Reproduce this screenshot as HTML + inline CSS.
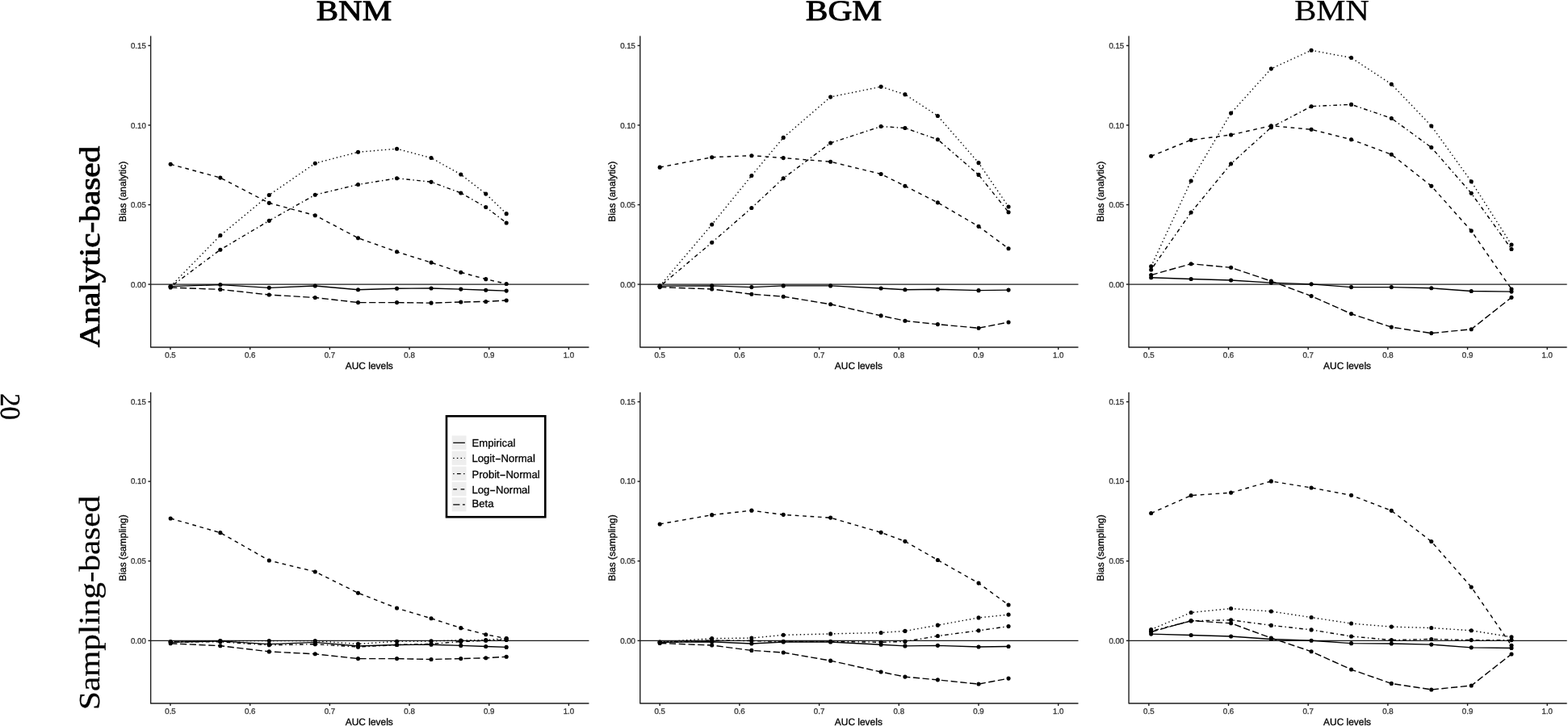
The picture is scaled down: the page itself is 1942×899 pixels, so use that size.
<!DOCTYPE html>
<html lang="en"><head><meta charset="utf-8"><title>Bias of AUC estimators</title>
<style>
html,body{margin:0;padding:0;background:#fff;}
body{width:1942px;height:899px;overflow:hidden;}
svg{display:block;}
.sans{font-family:"Liberation Sans","DejaVu Sans",sans-serif;}
.serif{font-family:"Liberation Serif","DejaVu Serif",serif;}
text{text-rendering:geometricPrecision;}
.tick{font-size:9.7px;fill:#363636;stroke:#363636;stroke-width:0.3px;}
.axt{font-size:11.95px;fill:#000;stroke:#000;stroke-width:0.3px;}
.leg{font-size:13.1px;fill:#000;stroke:#000;stroke-width:0.3px;}
.ttl{font-size:35.6px;fill:#000;stroke:#000;stroke-width:0.9px;stroke-linejoin:round;}
.pg{font-size:35px;fill:#000;stroke:#000;stroke-width:0.35px;}
.ttl2{font-size:36.5px;fill:#000;stroke:#000;stroke-width:0.25px;}
</style></head><body>
<svg width="1942" height="899" viewBox="0 0 1942 899">
<rect x="0" y="0" width="1942" height="899" fill="#fff"/>
<text class="serif pg" transform="translate(1.0 487.0) rotate(90)" textLength="33.2" lengthAdjust="spacingAndGlyphs">20</text>
<text class="serif ttl" x="438.5" y="25.2" text-anchor="middle" textLength="93.5" lengthAdjust="spacingAndGlyphs">BNM</text>
<text class="serif ttl" x="1045" y="25.2" text-anchor="middle" textLength="94.5" lengthAdjust="spacingAndGlyphs">BGM</text>
<text class="serif ttl2" x="1649.5" y="25.2" text-anchor="middle" textLength="92.5" lengthAdjust="spacingAndGlyphs">BMN</text>
<text class="serif ttl" transform="translate(123.1 430.3) rotate(-90)" textLength="249.5" lengthAdjust="spacingAndGlyphs">Analytic-based</text>
<g id="panel-A1">
<line x1="186.65" y1="352.1" x2="729.45" y2="352.1" stroke="#1a1a1a" stroke-width="1.3"/>
<path d="M211.24 354.63 L272.85 352.6 L333.31 356.36 L390.29 354.05 L443.51 358.68 L491.53 357.23 L534.05 356.94 L570.79 358.1 L601.74 359.26 L627.19 360.12" fill="none" stroke="#000" stroke-width="1.4"/>
<path d="M211.24 354.63 L272.85 291.57 L333.31 241.53 L390.29 202.19 L443.51 188.31 L491.53 184.26 L534.05 195.54 L570.79 216.07 L601.74 240.08 L627.19 264.67" fill="none" stroke="#000" stroke-width="1.4" stroke-dasharray="1.4 3.3"/>
<path d="M211.24 355.21 L272.85 309.21 L333.31 273.35 L390.29 241.24 L443.51 228.51 L491.53 220.7 L534.05 225.33 L570.79 238.93 L601.74 256.57 L627.19 275.95" fill="none" stroke="#000" stroke-width="1.4" stroke-dasharray="1.4 3.41 4.7 3.41"/>
<path d="M211.24 203.35 L272.85 220.12 L333.31 251.36 L390.29 266.69 L443.51 294.75 L491.53 311.82 L534.05 325.12 L570.79 337.27 L601.74 345.66 L627.19 351.45" fill="none" stroke="#000" stroke-width="1.4" stroke-dasharray="4.7 4.7"/>
<path d="M211.24 356.07 L272.85 358.39 L333.31 365.04 L390.29 368.51 L443.51 374.59 L491.53 374.59 L534.05 375.17 L570.79 374.01 L601.74 373.43 L627.19 371.98" fill="none" stroke="#000" stroke-width="1.4" stroke-dasharray="8.22 3.53"/>
<circle cx="211.24" cy="354.63" r="2.55" fill="#000"/>
<circle cx="272.85" cy="352.6" r="2.55" fill="#000"/>
<circle cx="333.31" cy="356.36" r="2.55" fill="#000"/>
<circle cx="390.29" cy="354.05" r="2.55" fill="#000"/>
<circle cx="443.51" cy="358.68" r="2.55" fill="#000"/>
<circle cx="491.53" cy="357.23" r="2.55" fill="#000"/>
<circle cx="534.05" cy="356.94" r="2.55" fill="#000"/>
<circle cx="570.79" cy="358.1" r="2.55" fill="#000"/>
<circle cx="601.74" cy="359.26" r="2.55" fill="#000"/>
<circle cx="627.19" cy="360.12" r="2.55" fill="#000"/>
<circle cx="211.24" cy="354.63" r="2.55" fill="#000"/>
<circle cx="272.85" cy="291.57" r="2.55" fill="#000"/>
<circle cx="333.31" cy="241.53" r="2.55" fill="#000"/>
<circle cx="390.29" cy="202.19" r="2.55" fill="#000"/>
<circle cx="443.51" cy="188.31" r="2.55" fill="#000"/>
<circle cx="491.53" cy="184.26" r="2.55" fill="#000"/>
<circle cx="534.05" cy="195.54" r="2.55" fill="#000"/>
<circle cx="570.79" cy="216.07" r="2.55" fill="#000"/>
<circle cx="601.74" cy="240.08" r="2.55" fill="#000"/>
<circle cx="627.19" cy="264.67" r="2.55" fill="#000"/>
<circle cx="211.24" cy="355.21" r="2.55" fill="#000"/>
<circle cx="272.85" cy="309.21" r="2.55" fill="#000"/>
<circle cx="333.31" cy="273.35" r="2.55" fill="#000"/>
<circle cx="390.29" cy="241.24" r="2.55" fill="#000"/>
<circle cx="443.51" cy="228.51" r="2.55" fill="#000"/>
<circle cx="491.53" cy="220.7" r="2.55" fill="#000"/>
<circle cx="534.05" cy="225.33" r="2.55" fill="#000"/>
<circle cx="570.79" cy="238.93" r="2.55" fill="#000"/>
<circle cx="601.74" cy="256.57" r="2.55" fill="#000"/>
<circle cx="627.19" cy="275.95" r="2.55" fill="#000"/>
<circle cx="211.24" cy="203.35" r="2.55" fill="#000"/>
<circle cx="272.85" cy="220.12" r="2.55" fill="#000"/>
<circle cx="333.31" cy="251.36" r="2.55" fill="#000"/>
<circle cx="390.29" cy="266.69" r="2.55" fill="#000"/>
<circle cx="443.51" cy="294.75" r="2.55" fill="#000"/>
<circle cx="491.53" cy="311.82" r="2.55" fill="#000"/>
<circle cx="534.05" cy="325.12" r="2.55" fill="#000"/>
<circle cx="570.79" cy="337.27" r="2.55" fill="#000"/>
<circle cx="601.74" cy="345.66" r="2.55" fill="#000"/>
<circle cx="627.19" cy="351.45" r="2.55" fill="#000"/>
<circle cx="211.24" cy="356.07" r="2.55" fill="#000"/>
<circle cx="272.85" cy="358.39" r="2.55" fill="#000"/>
<circle cx="333.31" cy="365.04" r="2.55" fill="#000"/>
<circle cx="390.29" cy="368.51" r="2.55" fill="#000"/>
<circle cx="443.51" cy="374.59" r="2.55" fill="#000"/>
<circle cx="491.53" cy="374.59" r="2.55" fill="#000"/>
<circle cx="534.05" cy="375.17" r="2.55" fill="#000"/>
<circle cx="570.79" cy="374.01" r="2.55" fill="#000"/>
<circle cx="601.74" cy="373.43" r="2.55" fill="#000"/>
<circle cx="627.19" cy="371.98" r="2.55" fill="#000"/>
<path d="M186.65 44.6 V430 H729.45" fill="none" stroke="#1f1f1f" stroke-width="1.4" stroke-linejoin="round"/>
<line x1="211" y1="430" x2="211" y2="433" stroke="#1a1a1a" stroke-width="1.4"/>
<text class="sans tick" x="211" y="443" text-anchor="middle">0.5</text>
<line x1="309.68" y1="430" x2="309.68" y2="433" stroke="#1a1a1a" stroke-width="1.4"/>
<text class="sans tick" x="309.68" y="443" text-anchor="middle">0.6</text>
<line x1="408.36" y1="430" x2="408.36" y2="433" stroke="#1a1a1a" stroke-width="1.4"/>
<text class="sans tick" x="408.36" y="443" text-anchor="middle">0.7</text>
<line x1="507.04" y1="430" x2="507.04" y2="433" stroke="#1a1a1a" stroke-width="1.4"/>
<text class="sans tick" x="507.04" y="443" text-anchor="middle">0.8</text>
<line x1="605.72" y1="430" x2="605.72" y2="433" stroke="#1a1a1a" stroke-width="1.4"/>
<text class="sans tick" x="605.72" y="443" text-anchor="middle">0.9</text>
<line x1="704.4" y1="430" x2="704.4" y2="433" stroke="#1a1a1a" stroke-width="1.4"/>
<text class="sans tick" x="704.4" y="443" text-anchor="middle">1.0</text>
<line x1="183.45" y1="352.1" x2="186.65" y2="352.1" stroke="#1a1a1a" stroke-width="1.4"/>
<text class="sans tick" x="180.85" y="355.7" text-anchor="end">0.00</text>
<line x1="183.45" y1="253.55" x2="186.65" y2="253.55" stroke="#1a1a1a" stroke-width="1.4"/>
<text class="sans tick" x="180.85" y="257.15" text-anchor="end">0.05</text>
<line x1="183.45" y1="155" x2="186.65" y2="155" stroke="#1a1a1a" stroke-width="1.4"/>
<text class="sans tick" x="180.85" y="158.6" text-anchor="end">0.10</text>
<line x1="183.45" y1="56.45" x2="186.65" y2="56.45" stroke="#1a1a1a" stroke-width="1.4"/>
<text class="sans tick" x="180.85" y="60.05" text-anchor="end">0.15</text>
<text class="sans axt" x="457.25" y="456.6" text-anchor="middle">AUC levels</text>
<text class="sans axt" transform="translate(155.95 237.3) rotate(-90)" text-anchor="middle">Bias (analytic)</text>
</g>
<g id="panel-A2">
<line x1="792.8" y1="352.1" x2="1335.5" y2="352.1" stroke="#1a1a1a" stroke-width="1.3"/>
<path d="M817.19 354.17 L881.69 353.88 L930.87 355.62 L970.21 353.88 L1028.64 353.88 L1091.12 357.07 L1120.91 358.8 L1161.4 358.22 L1212.02 359.67 L1249.05 359.09" fill="none" stroke="#000" stroke-width="1.4"/>
<path d="M817.19 354.17 L881.69 278.02 L930.87 217.56 L970.21 170.41 L1028.64 120.08 L1091.12 107.36 L1120.91 116.9 L1161.4 143.51 L1212.02 201.65 L1249.05 256.03" fill="none" stroke="#000" stroke-width="1.4" stroke-dasharray="1.4 3.3"/>
<path d="M817.19 354.75 L881.69 300.29 L930.87 257.48 L970.21 220.74 L1028.64 177.07 L1091.12 156.53 L1120.91 158.55 L1161.4 172.73 L1212.02 216.4 L1249.05 262.69" fill="none" stroke="#000" stroke-width="1.4" stroke-dasharray="1.4 3.41 4.7 3.41"/>
<path d="M817.19 207.15 L881.69 194.71 L930.87 192.69 L970.21 195.58 L1028.64 200.21 L1091.12 215.54 L1120.91 230.29 L1161.4 250.83 L1212.02 280.33 L1249.05 307.81" fill="none" stroke="#000" stroke-width="1.4" stroke-dasharray="4.7 4.7"/>
<path d="M817.19 355.62 L881.69 357.93 L930.87 364.3 L970.21 367.19 L1028.64 376.74 L1091.12 390.91 L1120.91 397.27 L1161.4 401.61 L1212.02 406.24 L1249.05 399.01" fill="none" stroke="#000" stroke-width="1.4" stroke-dasharray="8.22 3.53"/>
<circle cx="817.19" cy="354.17" r="2.55" fill="#000"/>
<circle cx="881.69" cy="353.88" r="2.55" fill="#000"/>
<circle cx="930.87" cy="355.62" r="2.55" fill="#000"/>
<circle cx="970.21" cy="353.88" r="2.55" fill="#000"/>
<circle cx="1028.64" cy="353.88" r="2.55" fill="#000"/>
<circle cx="1091.12" cy="357.07" r="2.55" fill="#000"/>
<circle cx="1120.91" cy="358.8" r="2.55" fill="#000"/>
<circle cx="1161.4" cy="358.22" r="2.55" fill="#000"/>
<circle cx="1212.02" cy="359.67" r="2.55" fill="#000"/>
<circle cx="1249.05" cy="359.09" r="2.55" fill="#000"/>
<circle cx="817.19" cy="354.17" r="2.55" fill="#000"/>
<circle cx="881.69" cy="278.02" r="2.55" fill="#000"/>
<circle cx="930.87" cy="217.56" r="2.55" fill="#000"/>
<circle cx="970.21" cy="170.41" r="2.55" fill="#000"/>
<circle cx="1028.64" cy="120.08" r="2.55" fill="#000"/>
<circle cx="1091.12" cy="107.36" r="2.55" fill="#000"/>
<circle cx="1120.91" cy="116.9" r="2.55" fill="#000"/>
<circle cx="1161.4" cy="143.51" r="2.55" fill="#000"/>
<circle cx="1212.02" cy="201.65" r="2.55" fill="#000"/>
<circle cx="1249.05" cy="256.03" r="2.55" fill="#000"/>
<circle cx="817.19" cy="354.75" r="2.55" fill="#000"/>
<circle cx="881.69" cy="300.29" r="2.55" fill="#000"/>
<circle cx="930.87" cy="257.48" r="2.55" fill="#000"/>
<circle cx="970.21" cy="220.74" r="2.55" fill="#000"/>
<circle cx="1028.64" cy="177.07" r="2.55" fill="#000"/>
<circle cx="1091.12" cy="156.53" r="2.55" fill="#000"/>
<circle cx="1120.91" cy="158.55" r="2.55" fill="#000"/>
<circle cx="1161.4" cy="172.73" r="2.55" fill="#000"/>
<circle cx="1212.02" cy="216.4" r="2.55" fill="#000"/>
<circle cx="1249.05" cy="262.69" r="2.55" fill="#000"/>
<circle cx="817.19" cy="207.15" r="2.55" fill="#000"/>
<circle cx="881.69" cy="194.71" r="2.55" fill="#000"/>
<circle cx="930.87" cy="192.69" r="2.55" fill="#000"/>
<circle cx="970.21" cy="195.58" r="2.55" fill="#000"/>
<circle cx="1028.64" cy="200.21" r="2.55" fill="#000"/>
<circle cx="1091.12" cy="215.54" r="2.55" fill="#000"/>
<circle cx="1120.91" cy="230.29" r="2.55" fill="#000"/>
<circle cx="1161.4" cy="250.83" r="2.55" fill="#000"/>
<circle cx="1212.02" cy="280.33" r="2.55" fill="#000"/>
<circle cx="1249.05" cy="307.81" r="2.55" fill="#000"/>
<circle cx="817.19" cy="355.62" r="2.55" fill="#000"/>
<circle cx="881.69" cy="357.93" r="2.55" fill="#000"/>
<circle cx="930.87" cy="364.3" r="2.55" fill="#000"/>
<circle cx="970.21" cy="367.19" r="2.55" fill="#000"/>
<circle cx="1028.64" cy="376.74" r="2.55" fill="#000"/>
<circle cx="1091.12" cy="390.91" r="2.55" fill="#000"/>
<circle cx="1120.91" cy="397.27" r="2.55" fill="#000"/>
<circle cx="1161.4" cy="401.61" r="2.55" fill="#000"/>
<circle cx="1212.02" cy="406.24" r="2.55" fill="#000"/>
<circle cx="1249.05" cy="399.01" r="2.55" fill="#000"/>
<path d="M792.8 44.6 V430 H1335.5" fill="none" stroke="#1f1f1f" stroke-width="1.4" stroke-linejoin="round"/>
<line x1="817.2" y1="430" x2="817.2" y2="433" stroke="#1a1a1a" stroke-width="1.4"/>
<text class="sans tick" x="817.2" y="443" text-anchor="middle">0.5</text>
<line x1="915.9" y1="430" x2="915.9" y2="433" stroke="#1a1a1a" stroke-width="1.4"/>
<text class="sans tick" x="915.9" y="443" text-anchor="middle">0.6</text>
<line x1="1014.6" y1="430" x2="1014.6" y2="433" stroke="#1a1a1a" stroke-width="1.4"/>
<text class="sans tick" x="1014.6" y="443" text-anchor="middle">0.7</text>
<line x1="1113.3" y1="430" x2="1113.3" y2="433" stroke="#1a1a1a" stroke-width="1.4"/>
<text class="sans tick" x="1113.3" y="443" text-anchor="middle">0.8</text>
<line x1="1212" y1="430" x2="1212" y2="433" stroke="#1a1a1a" stroke-width="1.4"/>
<text class="sans tick" x="1212" y="443" text-anchor="middle">0.9</text>
<line x1="1310.7" y1="430" x2="1310.7" y2="433" stroke="#1a1a1a" stroke-width="1.4"/>
<text class="sans tick" x="1310.7" y="443" text-anchor="middle">1.0</text>
<line x1="789.6" y1="352.1" x2="792.8" y2="352.1" stroke="#1a1a1a" stroke-width="1.4"/>
<text class="sans tick" x="787" y="355.7" text-anchor="end">0.00</text>
<line x1="789.6" y1="253.55" x2="792.8" y2="253.55" stroke="#1a1a1a" stroke-width="1.4"/>
<text class="sans tick" x="787" y="257.15" text-anchor="end">0.05</text>
<line x1="789.6" y1="155" x2="792.8" y2="155" stroke="#1a1a1a" stroke-width="1.4"/>
<text class="sans tick" x="787" y="158.6" text-anchor="end">0.10</text>
<line x1="789.6" y1="56.45" x2="792.8" y2="56.45" stroke="#1a1a1a" stroke-width="1.4"/>
<text class="sans tick" x="787" y="60.05" text-anchor="end">0.15</text>
<text class="sans axt" x="1063.35" y="456.6" text-anchor="middle">AUC levels</text>
<text class="sans axt" transform="translate(762.1 237.3) rotate(-90)" text-anchor="middle">Bias (analytic)</text>
</g>
<g id="panel-A3">
<line x1="1398.05" y1="352.1" x2="1940.7" y2="352.1" stroke="#1a1a1a" stroke-width="1.3"/>
<path d="M1425.68 343.76 L1475.14 345.5 L1524.6 346.94 L1574.36 350.12 L1624.11 351.86 L1673.57 355.62 L1723.32 355.62 L1772.79 356.78 L1822.25 360.54 L1872 361.12" fill="none" stroke="#000" stroke-width="1.4"/>
<path d="M1425.68 329.88 L1475.14 223.97 L1524.6 140.08 L1574.36 85.12 L1624.11 62.27 L1673.57 71.53 L1723.32 104.21 L1772.79 155.99 L1822.25 224.83 L1872 302.98" fill="none" stroke="#000" stroke-width="1.4" stroke-dasharray="1.4 3.3"/>
<path d="M1425.68 333.93 L1475.14 263.02 L1524.6 202.85 L1574.36 157.73 L1624.11 131.69 L1673.57 129.38 L1723.32 146.45 L1772.79 182.6 L1822.25 239.3 L1872 308.47" fill="none" stroke="#000" stroke-width="1.4" stroke-dasharray="1.4 3.41 4.7 3.41"/>
<path d="M1425.68 193.31 L1475.14 173.35 L1524.6 166.98 L1574.36 155.7 L1624.11 160.33 L1673.57 172.77 L1723.32 191.28 L1772.79 230.33 L1822.25 285.87 L1872 357.93" fill="none" stroke="#000" stroke-width="1.4" stroke-dasharray="4.7 4.7"/>
<path d="M1425.68 340.58 L1475.14 326.69 L1524.6 331.32 L1574.36 348.1 L1624.11 366.61 L1673.57 388.6 L1723.32 405.08 L1772.79 412.6 L1822.25 407.69 L1872 368.35" fill="none" stroke="#000" stroke-width="1.4" stroke-dasharray="8.22 3.53"/>
<circle cx="1425.68" cy="343.76" r="2.55" fill="#000"/>
<circle cx="1475.14" cy="345.5" r="2.55" fill="#000"/>
<circle cx="1524.6" cy="346.94" r="2.55" fill="#000"/>
<circle cx="1574.36" cy="350.12" r="2.55" fill="#000"/>
<circle cx="1624.11" cy="351.86" r="2.55" fill="#000"/>
<circle cx="1673.57" cy="355.62" r="2.55" fill="#000"/>
<circle cx="1723.32" cy="355.62" r="2.55" fill="#000"/>
<circle cx="1772.79" cy="356.78" r="2.55" fill="#000"/>
<circle cx="1822.25" cy="360.54" r="2.55" fill="#000"/>
<circle cx="1872" cy="361.12" r="2.55" fill="#000"/>
<circle cx="1425.68" cy="329.88" r="2.55" fill="#000"/>
<circle cx="1475.14" cy="223.97" r="2.55" fill="#000"/>
<circle cx="1524.6" cy="140.08" r="2.55" fill="#000"/>
<circle cx="1574.36" cy="85.12" r="2.55" fill="#000"/>
<circle cx="1624.11" cy="62.27" r="2.55" fill="#000"/>
<circle cx="1673.57" cy="71.53" r="2.55" fill="#000"/>
<circle cx="1723.32" cy="104.21" r="2.55" fill="#000"/>
<circle cx="1772.79" cy="155.99" r="2.55" fill="#000"/>
<circle cx="1822.25" cy="224.83" r="2.55" fill="#000"/>
<circle cx="1872" cy="302.98" r="2.55" fill="#000"/>
<circle cx="1425.68" cy="333.93" r="2.55" fill="#000"/>
<circle cx="1475.14" cy="263.02" r="2.55" fill="#000"/>
<circle cx="1524.6" cy="202.85" r="2.55" fill="#000"/>
<circle cx="1574.36" cy="157.73" r="2.55" fill="#000"/>
<circle cx="1624.11" cy="131.69" r="2.55" fill="#000"/>
<circle cx="1673.57" cy="129.38" r="2.55" fill="#000"/>
<circle cx="1723.32" cy="146.45" r="2.55" fill="#000"/>
<circle cx="1772.79" cy="182.6" r="2.55" fill="#000"/>
<circle cx="1822.25" cy="239.3" r="2.55" fill="#000"/>
<circle cx="1872" cy="308.47" r="2.55" fill="#000"/>
<circle cx="1425.68" cy="193.31" r="2.55" fill="#000"/>
<circle cx="1475.14" cy="173.35" r="2.55" fill="#000"/>
<circle cx="1524.6" cy="166.98" r="2.55" fill="#000"/>
<circle cx="1574.36" cy="155.7" r="2.55" fill="#000"/>
<circle cx="1624.11" cy="160.33" r="2.55" fill="#000"/>
<circle cx="1673.57" cy="172.77" r="2.55" fill="#000"/>
<circle cx="1723.32" cy="191.28" r="2.55" fill="#000"/>
<circle cx="1772.79" cy="230.33" r="2.55" fill="#000"/>
<circle cx="1822.25" cy="285.87" r="2.55" fill="#000"/>
<circle cx="1872" cy="357.93" r="2.55" fill="#000"/>
<circle cx="1425.68" cy="340.58" r="2.55" fill="#000"/>
<circle cx="1475.14" cy="326.69" r="2.55" fill="#000"/>
<circle cx="1524.6" cy="331.32" r="2.55" fill="#000"/>
<circle cx="1574.36" cy="348.1" r="2.55" fill="#000"/>
<circle cx="1624.11" cy="366.61" r="2.55" fill="#000"/>
<circle cx="1673.57" cy="388.6" r="2.55" fill="#000"/>
<circle cx="1723.32" cy="405.08" r="2.55" fill="#000"/>
<circle cx="1772.79" cy="412.6" r="2.55" fill="#000"/>
<circle cx="1822.25" cy="407.69" r="2.55" fill="#000"/>
<circle cx="1872" cy="368.35" r="2.55" fill="#000"/>
<path d="M1398.05 44.6 V430 H1940.7" fill="none" stroke="#1f1f1f" stroke-width="1.4" stroke-linejoin="round"/>
<line x1="1422.85" y1="430" x2="1422.85" y2="433" stroke="#1a1a1a" stroke-width="1.4"/>
<text class="sans tick" x="1422.85" y="443" text-anchor="middle">0.5</text>
<line x1="1521.53" y1="430" x2="1521.53" y2="433" stroke="#1a1a1a" stroke-width="1.4"/>
<text class="sans tick" x="1521.53" y="443" text-anchor="middle">0.6</text>
<line x1="1620.21" y1="430" x2="1620.21" y2="433" stroke="#1a1a1a" stroke-width="1.4"/>
<text class="sans tick" x="1620.21" y="443" text-anchor="middle">0.7</text>
<line x1="1718.89" y1="430" x2="1718.89" y2="433" stroke="#1a1a1a" stroke-width="1.4"/>
<text class="sans tick" x="1718.89" y="443" text-anchor="middle">0.8</text>
<line x1="1817.57" y1="430" x2="1817.57" y2="433" stroke="#1a1a1a" stroke-width="1.4"/>
<text class="sans tick" x="1817.57" y="443" text-anchor="middle">0.9</text>
<line x1="1916.25" y1="430" x2="1916.25" y2="433" stroke="#1a1a1a" stroke-width="1.4"/>
<text class="sans tick" x="1916.25" y="443" text-anchor="middle">1.0</text>
<line x1="1394.85" y1="352.1" x2="1398.05" y2="352.1" stroke="#1a1a1a" stroke-width="1.4"/>
<text class="sans tick" x="1392.25" y="355.7" text-anchor="end">0.00</text>
<line x1="1394.85" y1="253.55" x2="1398.05" y2="253.55" stroke="#1a1a1a" stroke-width="1.4"/>
<text class="sans tick" x="1392.25" y="257.15" text-anchor="end">0.05</text>
<line x1="1394.85" y1="155" x2="1398.05" y2="155" stroke="#1a1a1a" stroke-width="1.4"/>
<text class="sans tick" x="1392.25" y="158.6" text-anchor="end">0.10</text>
<line x1="1394.85" y1="56.45" x2="1398.05" y2="56.45" stroke="#1a1a1a" stroke-width="1.4"/>
<text class="sans tick" x="1392.25" y="60.05" text-anchor="end">0.15</text>
<text class="sans axt" x="1668.58" y="456.6" text-anchor="middle">AUC levels</text>
<text class="sans axt" transform="translate(1367.35 237.3) rotate(-90)" text-anchor="middle">Bias (analytic)</text>
</g>
<text class="serif ttl2" transform="translate(122.9 879) rotate(-90)" textLength="265.2" lengthAdjust="spacingAndGlyphs">Sampling-based</text>
<g id="panel-S1">
<line x1="186.65" y1="793.35" x2="729.45" y2="793.35" stroke="#1a1a1a" stroke-width="1.3"/>
<path d="M211.24 795.35 L272.85 793.9 L333.31 797.66 L390.29 795.35 L443.51 799.98 L491.53 798.53 L534.05 798.24 L570.79 799.4 L601.74 800.55 L627.19 801.42" fill="none" stroke="#000" stroke-width="1.4"/>
<path d="M211.24 794.48 L272.85 793.61 L333.31 793.61 L390.29 793.61 L443.51 797.37 L491.53 794.19 L534.05 793.9 L570.79 793.03 L601.74 792.45 L627.19 790.72" fill="none" stroke="#000" stroke-width="1.4" stroke-dasharray="1.4 3.3"/>
<path d="M211.24 795.06 L272.85 794.77 L333.31 798.82 L390.29 797.66 L443.51 801.13 L491.53 798.53 L534.05 797.37 L570.79 794.48 L601.74 793.32 L627.19 792.45" fill="none" stroke="#000" stroke-width="1.4" stroke-dasharray="1.4 3.41 4.7 3.41"/>
<path d="M211.24 641.98 L272.85 659.63 L333.31 694.05 L390.29 707.93 L443.51 734.26 L491.53 753.06 L534.05 765.79 L570.79 777.64 L601.74 785.74 L627.19 790.66" fill="none" stroke="#000" stroke-width="1.4" stroke-dasharray="4.7 4.7"/>
<path d="M211.24 796.79 L272.85 799.69 L333.31 806.92 L390.29 809.81 L443.51 815.6 L491.53 815.6 L534.05 816.46 L570.79 815.6 L601.74 814.73 L627.19 813.28" fill="none" stroke="#000" stroke-width="1.4" stroke-dasharray="8.22 3.53"/>
<circle cx="211.24" cy="795.35" r="2.55" fill="#000"/>
<circle cx="272.85" cy="793.9" r="2.55" fill="#000"/>
<circle cx="333.31" cy="797.66" r="2.55" fill="#000"/>
<circle cx="390.29" cy="795.35" r="2.55" fill="#000"/>
<circle cx="443.51" cy="799.98" r="2.55" fill="#000"/>
<circle cx="491.53" cy="798.53" r="2.55" fill="#000"/>
<circle cx="534.05" cy="798.24" r="2.55" fill="#000"/>
<circle cx="570.79" cy="799.4" r="2.55" fill="#000"/>
<circle cx="601.74" cy="800.55" r="2.55" fill="#000"/>
<circle cx="627.19" cy="801.42" r="2.55" fill="#000"/>
<circle cx="211.24" cy="794.48" r="2.55" fill="#000"/>
<circle cx="272.85" cy="793.61" r="2.55" fill="#000"/>
<circle cx="333.31" cy="793.61" r="2.55" fill="#000"/>
<circle cx="390.29" cy="793.61" r="2.55" fill="#000"/>
<circle cx="443.51" cy="797.37" r="2.55" fill="#000"/>
<circle cx="491.53" cy="794.19" r="2.55" fill="#000"/>
<circle cx="534.05" cy="793.9" r="2.55" fill="#000"/>
<circle cx="570.79" cy="793.03" r="2.55" fill="#000"/>
<circle cx="601.74" cy="792.45" r="2.55" fill="#000"/>
<circle cx="627.19" cy="790.72" r="2.55" fill="#000"/>
<circle cx="211.24" cy="795.06" r="2.55" fill="#000"/>
<circle cx="272.85" cy="794.77" r="2.55" fill="#000"/>
<circle cx="333.31" cy="798.82" r="2.55" fill="#000"/>
<circle cx="390.29" cy="797.66" r="2.55" fill="#000"/>
<circle cx="443.51" cy="801.13" r="2.55" fill="#000"/>
<circle cx="491.53" cy="798.53" r="2.55" fill="#000"/>
<circle cx="534.05" cy="797.37" r="2.55" fill="#000"/>
<circle cx="570.79" cy="794.48" r="2.55" fill="#000"/>
<circle cx="601.74" cy="793.32" r="2.55" fill="#000"/>
<circle cx="627.19" cy="792.45" r="2.55" fill="#000"/>
<circle cx="211.24" cy="641.98" r="2.55" fill="#000"/>
<circle cx="272.85" cy="659.63" r="2.55" fill="#000"/>
<circle cx="333.31" cy="694.05" r="2.55" fill="#000"/>
<circle cx="390.29" cy="707.93" r="2.55" fill="#000"/>
<circle cx="443.51" cy="734.26" r="2.55" fill="#000"/>
<circle cx="491.53" cy="753.06" r="2.55" fill="#000"/>
<circle cx="534.05" cy="765.79" r="2.55" fill="#000"/>
<circle cx="570.79" cy="777.64" r="2.55" fill="#000"/>
<circle cx="601.74" cy="785.74" r="2.55" fill="#000"/>
<circle cx="627.19" cy="790.66" r="2.55" fill="#000"/>
<circle cx="211.24" cy="796.79" r="2.55" fill="#000"/>
<circle cx="272.85" cy="799.69" r="2.55" fill="#000"/>
<circle cx="333.31" cy="806.92" r="2.55" fill="#000"/>
<circle cx="390.29" cy="809.81" r="2.55" fill="#000"/>
<circle cx="443.51" cy="815.6" r="2.55" fill="#000"/>
<circle cx="491.53" cy="815.6" r="2.55" fill="#000"/>
<circle cx="534.05" cy="816.46" r="2.55" fill="#000"/>
<circle cx="570.79" cy="815.6" r="2.55" fill="#000"/>
<circle cx="601.74" cy="814.73" r="2.55" fill="#000"/>
<circle cx="627.19" cy="813.28" r="2.55" fill="#000"/>
<path d="M186.65 485.8 V871 H729.45" fill="none" stroke="#1f1f1f" stroke-width="1.4" stroke-linejoin="round"/>
<line x1="211" y1="871" x2="211" y2="874" stroke="#1a1a1a" stroke-width="1.4"/>
<text class="sans tick" x="211" y="884" text-anchor="middle">0.5</text>
<line x1="309.68" y1="871" x2="309.68" y2="874" stroke="#1a1a1a" stroke-width="1.4"/>
<text class="sans tick" x="309.68" y="884" text-anchor="middle">0.6</text>
<line x1="408.36" y1="871" x2="408.36" y2="874" stroke="#1a1a1a" stroke-width="1.4"/>
<text class="sans tick" x="408.36" y="884" text-anchor="middle">0.7</text>
<line x1="507.04" y1="871" x2="507.04" y2="874" stroke="#1a1a1a" stroke-width="1.4"/>
<text class="sans tick" x="507.04" y="884" text-anchor="middle">0.8</text>
<line x1="605.72" y1="871" x2="605.72" y2="874" stroke="#1a1a1a" stroke-width="1.4"/>
<text class="sans tick" x="605.72" y="884" text-anchor="middle">0.9</text>
<line x1="704.4" y1="871" x2="704.4" y2="874" stroke="#1a1a1a" stroke-width="1.4"/>
<text class="sans tick" x="704.4" y="884" text-anchor="middle">1.0</text>
<line x1="183.45" y1="793.35" x2="186.65" y2="793.35" stroke="#1a1a1a" stroke-width="1.4"/>
<text class="sans tick" x="180.85" y="796.55" text-anchor="end">0.00</text>
<line x1="183.45" y1="694.75" x2="186.65" y2="694.75" stroke="#1a1a1a" stroke-width="1.4"/>
<text class="sans tick" x="180.85" y="697.95" text-anchor="end">0.05</text>
<line x1="183.45" y1="596.15" x2="186.65" y2="596.15" stroke="#1a1a1a" stroke-width="1.4"/>
<text class="sans tick" x="180.85" y="599.35" text-anchor="end">0.10</text>
<line x1="183.45" y1="497.55" x2="186.65" y2="497.55" stroke="#1a1a1a" stroke-width="1.4"/>
<text class="sans tick" x="180.85" y="500.75" text-anchor="end">0.15</text>
<text class="sans axt" x="457.25" y="897.85" text-anchor="middle">AUC levels</text>
<text class="sans axt" transform="translate(155.95 678.4) rotate(-90)" text-anchor="middle">Bias (sampling)</text>
</g>
<g id="panel-S2">
<line x1="792.8" y1="793.35" x2="1335.5" y2="793.35" stroke="#1a1a1a" stroke-width="1.3"/>
<path d="M817.19 795.29 L881.69 794.71 L930.87 797.02 L970.21 795 L1028.64 795 L1091.12 798.18 L1120.91 799.92 L1161.4 799.34 L1212.02 801.07 L1249.05 800.5" fill="none" stroke="#000" stroke-width="1.4"/>
<path d="M817.19 795 L881.69 790.66 L930.87 790.08 L970.21 786.32 L1028.64 784.88 L1091.12 783.43 L1120.91 781.4 L1161.4 774.17 L1212.02 764.92 L1249.05 761.16" fill="none" stroke="#000" stroke-width="1.4" stroke-dasharray="1.4 3.3"/>
<path d="M817.19 795.58 L881.69 792.98 L930.87 793.55 L970.21 794.42 L1028.64 794.42 L1091.12 795.29 L1120.91 794.42 L1161.4 787.48 L1212.02 780.83 L1249.05 775.62" fill="none" stroke="#000" stroke-width="1.4" stroke-dasharray="1.4 3.41 4.7 3.41"/>
<path d="M817.19 648.93 L881.69 637.64 L930.87 632.15 L970.21 637.36 L1028.64 641.12 L1091.12 659.34 L1120.91 670.33 L1161.4 693.47 L1212.02 722.11 L1249.05 749.01" fill="none" stroke="#000" stroke-width="1.4" stroke-dasharray="4.7 4.7"/>
<path d="M817.19 796.45 L881.69 799.05 L930.87 805.41 L970.21 808.02 L1028.64 818.14 L1091.12 832.02 L1120.91 838.1 L1161.4 841.86 L1212.02 847.07 L1249.05 840.12" fill="none" stroke="#000" stroke-width="1.4" stroke-dasharray="8.22 3.53"/>
<circle cx="817.19" cy="795.29" r="2.55" fill="#000"/>
<circle cx="881.69" cy="794.71" r="2.55" fill="#000"/>
<circle cx="930.87" cy="797.02" r="2.55" fill="#000"/>
<circle cx="970.21" cy="795" r="2.55" fill="#000"/>
<circle cx="1028.64" cy="795" r="2.55" fill="#000"/>
<circle cx="1091.12" cy="798.18" r="2.55" fill="#000"/>
<circle cx="1120.91" cy="799.92" r="2.55" fill="#000"/>
<circle cx="1161.4" cy="799.34" r="2.55" fill="#000"/>
<circle cx="1212.02" cy="801.07" r="2.55" fill="#000"/>
<circle cx="1249.05" cy="800.5" r="2.55" fill="#000"/>
<circle cx="817.19" cy="795" r="2.55" fill="#000"/>
<circle cx="881.69" cy="790.66" r="2.55" fill="#000"/>
<circle cx="930.87" cy="790.08" r="2.55" fill="#000"/>
<circle cx="970.21" cy="786.32" r="2.55" fill="#000"/>
<circle cx="1028.64" cy="784.88" r="2.55" fill="#000"/>
<circle cx="1091.12" cy="783.43" r="2.55" fill="#000"/>
<circle cx="1120.91" cy="781.4" r="2.55" fill="#000"/>
<circle cx="1161.4" cy="774.17" r="2.55" fill="#000"/>
<circle cx="1212.02" cy="764.92" r="2.55" fill="#000"/>
<circle cx="1249.05" cy="761.16" r="2.55" fill="#000"/>
<circle cx="817.19" cy="795.58" r="2.55" fill="#000"/>
<circle cx="881.69" cy="792.98" r="2.55" fill="#000"/>
<circle cx="930.87" cy="793.55" r="2.55" fill="#000"/>
<circle cx="970.21" cy="794.42" r="2.55" fill="#000"/>
<circle cx="1028.64" cy="794.42" r="2.55" fill="#000"/>
<circle cx="1091.12" cy="795.29" r="2.55" fill="#000"/>
<circle cx="1120.91" cy="794.42" r="2.55" fill="#000"/>
<circle cx="1161.4" cy="787.48" r="2.55" fill="#000"/>
<circle cx="1212.02" cy="780.83" r="2.55" fill="#000"/>
<circle cx="1249.05" cy="775.62" r="2.55" fill="#000"/>
<circle cx="817.19" cy="648.93" r="2.55" fill="#000"/>
<circle cx="881.69" cy="637.64" r="2.55" fill="#000"/>
<circle cx="930.87" cy="632.15" r="2.55" fill="#000"/>
<circle cx="970.21" cy="637.36" r="2.55" fill="#000"/>
<circle cx="1028.64" cy="641.12" r="2.55" fill="#000"/>
<circle cx="1091.12" cy="659.34" r="2.55" fill="#000"/>
<circle cx="1120.91" cy="670.33" r="2.55" fill="#000"/>
<circle cx="1161.4" cy="693.47" r="2.55" fill="#000"/>
<circle cx="1212.02" cy="722.11" r="2.55" fill="#000"/>
<circle cx="1249.05" cy="749.01" r="2.55" fill="#000"/>
<circle cx="817.19" cy="796.45" r="2.55" fill="#000"/>
<circle cx="881.69" cy="799.05" r="2.55" fill="#000"/>
<circle cx="930.87" cy="805.41" r="2.55" fill="#000"/>
<circle cx="970.21" cy="808.02" r="2.55" fill="#000"/>
<circle cx="1028.64" cy="818.14" r="2.55" fill="#000"/>
<circle cx="1091.12" cy="832.02" r="2.55" fill="#000"/>
<circle cx="1120.91" cy="838.1" r="2.55" fill="#000"/>
<circle cx="1161.4" cy="841.86" r="2.55" fill="#000"/>
<circle cx="1212.02" cy="847.07" r="2.55" fill="#000"/>
<circle cx="1249.05" cy="840.12" r="2.55" fill="#000"/>
<path d="M792.8 485.8 V871 H1335.5" fill="none" stroke="#1f1f1f" stroke-width="1.4" stroke-linejoin="round"/>
<line x1="817.2" y1="871" x2="817.2" y2="874" stroke="#1a1a1a" stroke-width="1.4"/>
<text class="sans tick" x="817.2" y="884" text-anchor="middle">0.5</text>
<line x1="915.9" y1="871" x2="915.9" y2="874" stroke="#1a1a1a" stroke-width="1.4"/>
<text class="sans tick" x="915.9" y="884" text-anchor="middle">0.6</text>
<line x1="1014.6" y1="871" x2="1014.6" y2="874" stroke="#1a1a1a" stroke-width="1.4"/>
<text class="sans tick" x="1014.6" y="884" text-anchor="middle">0.7</text>
<line x1="1113.3" y1="871" x2="1113.3" y2="874" stroke="#1a1a1a" stroke-width="1.4"/>
<text class="sans tick" x="1113.3" y="884" text-anchor="middle">0.8</text>
<line x1="1212" y1="871" x2="1212" y2="874" stroke="#1a1a1a" stroke-width="1.4"/>
<text class="sans tick" x="1212" y="884" text-anchor="middle">0.9</text>
<line x1="1310.7" y1="871" x2="1310.7" y2="874" stroke="#1a1a1a" stroke-width="1.4"/>
<text class="sans tick" x="1310.7" y="884" text-anchor="middle">1.0</text>
<line x1="789.6" y1="793.35" x2="792.8" y2="793.35" stroke="#1a1a1a" stroke-width="1.4"/>
<text class="sans tick" x="787" y="796.55" text-anchor="end">0.00</text>
<line x1="789.6" y1="694.75" x2="792.8" y2="694.75" stroke="#1a1a1a" stroke-width="1.4"/>
<text class="sans tick" x="787" y="697.95" text-anchor="end">0.05</text>
<line x1="789.6" y1="596.15" x2="792.8" y2="596.15" stroke="#1a1a1a" stroke-width="1.4"/>
<text class="sans tick" x="787" y="599.35" text-anchor="end">0.10</text>
<line x1="789.6" y1="497.55" x2="792.8" y2="497.55" stroke="#1a1a1a" stroke-width="1.4"/>
<text class="sans tick" x="787" y="500.75" text-anchor="end">0.15</text>
<text class="sans axt" x="1063.35" y="897.85" text-anchor="middle">AUC levels</text>
<text class="sans axt" transform="translate(762.1 678.4) rotate(-90)" text-anchor="middle">Bias (sampling)</text>
</g>
<g id="panel-S3">
<line x1="1398.05" y1="793.35" x2="1940.7" y2="793.35" stroke="#1a1a1a" stroke-width="1.3"/>
<path d="M1425.68 785.08 L1475.14 786.53 L1524.6 787.98 L1574.36 791.45 L1624.11 793.18 L1673.57 796.65 L1723.32 796.94 L1772.79 798.1 L1822.25 801.86 L1872 802.44" fill="none" stroke="#000" stroke-width="1.4"/>
<path d="M1425.68 779.59 L1475.14 758.47 L1524.6 753.55 L1574.36 757.02 L1624.11 764.55 L1673.57 772.07 L1723.32 776.12 L1772.79 777.56 L1822.25 780.74 L1872 788.84" fill="none" stroke="#000" stroke-width="1.4" stroke-dasharray="1.4 3.3"/>
<path d="M1425.68 781.61 L1475.14 768.88 L1524.6 767.73 L1574.36 774.38 L1624.11 779.88 L1673.57 787.98 L1723.32 792.6 L1772.79 791.45 L1822.25 792.6 L1872 792.6" fill="none" stroke="#000" stroke-width="1.4" stroke-dasharray="1.4 3.41 4.7 3.41"/>
<path d="M1425.68 635.54 L1475.14 613.55 L1524.6 610.08 L1574.36 595.91 L1624.11 604.01 L1673.57 613.26 L1723.32 632.36 L1772.79 670.54 L1822.25 726.94 L1872 799.26" fill="none" stroke="#000" stroke-width="1.4" stroke-dasharray="4.7 4.7"/>
<path d="M1425.68 782.48 L1475.14 768.6 L1524.6 771.78 L1574.36 790 L1624.11 806.78 L1673.57 829.05 L1723.32 846.4 L1772.79 853.93 L1822.25 849.01 L1872 809.96" fill="none" stroke="#000" stroke-width="1.4" stroke-dasharray="8.22 3.53"/>
<circle cx="1425.68" cy="785.08" r="2.55" fill="#000"/>
<circle cx="1475.14" cy="786.53" r="2.55" fill="#000"/>
<circle cx="1524.6" cy="787.98" r="2.55" fill="#000"/>
<circle cx="1574.36" cy="791.45" r="2.55" fill="#000"/>
<circle cx="1624.11" cy="793.18" r="2.55" fill="#000"/>
<circle cx="1673.57" cy="796.65" r="2.55" fill="#000"/>
<circle cx="1723.32" cy="796.94" r="2.55" fill="#000"/>
<circle cx="1772.79" cy="798.1" r="2.55" fill="#000"/>
<circle cx="1822.25" cy="801.86" r="2.55" fill="#000"/>
<circle cx="1872" cy="802.44" r="2.55" fill="#000"/>
<circle cx="1425.68" cy="779.59" r="2.55" fill="#000"/>
<circle cx="1475.14" cy="758.47" r="2.55" fill="#000"/>
<circle cx="1524.6" cy="753.55" r="2.55" fill="#000"/>
<circle cx="1574.36" cy="757.02" r="2.55" fill="#000"/>
<circle cx="1624.11" cy="764.55" r="2.55" fill="#000"/>
<circle cx="1673.57" cy="772.07" r="2.55" fill="#000"/>
<circle cx="1723.32" cy="776.12" r="2.55" fill="#000"/>
<circle cx="1772.79" cy="777.56" r="2.55" fill="#000"/>
<circle cx="1822.25" cy="780.74" r="2.55" fill="#000"/>
<circle cx="1872" cy="788.84" r="2.55" fill="#000"/>
<circle cx="1425.68" cy="781.61" r="2.55" fill="#000"/>
<circle cx="1475.14" cy="768.88" r="2.55" fill="#000"/>
<circle cx="1524.6" cy="767.73" r="2.55" fill="#000"/>
<circle cx="1574.36" cy="774.38" r="2.55" fill="#000"/>
<circle cx="1624.11" cy="779.88" r="2.55" fill="#000"/>
<circle cx="1673.57" cy="787.98" r="2.55" fill="#000"/>
<circle cx="1723.32" cy="792.6" r="2.55" fill="#000"/>
<circle cx="1772.79" cy="791.45" r="2.55" fill="#000"/>
<circle cx="1822.25" cy="792.6" r="2.55" fill="#000"/>
<circle cx="1872" cy="792.6" r="2.55" fill="#000"/>
<circle cx="1425.68" cy="635.54" r="2.55" fill="#000"/>
<circle cx="1475.14" cy="613.55" r="2.55" fill="#000"/>
<circle cx="1524.6" cy="610.08" r="2.55" fill="#000"/>
<circle cx="1574.36" cy="595.91" r="2.55" fill="#000"/>
<circle cx="1624.11" cy="604.01" r="2.55" fill="#000"/>
<circle cx="1673.57" cy="613.26" r="2.55" fill="#000"/>
<circle cx="1723.32" cy="632.36" r="2.55" fill="#000"/>
<circle cx="1772.79" cy="670.54" r="2.55" fill="#000"/>
<circle cx="1822.25" cy="726.94" r="2.55" fill="#000"/>
<circle cx="1872" cy="799.26" r="2.55" fill="#000"/>
<circle cx="1425.68" cy="782.48" r="2.55" fill="#000"/>
<circle cx="1475.14" cy="768.6" r="2.55" fill="#000"/>
<circle cx="1524.6" cy="771.78" r="2.55" fill="#000"/>
<circle cx="1574.36" cy="790" r="2.55" fill="#000"/>
<circle cx="1624.11" cy="806.78" r="2.55" fill="#000"/>
<circle cx="1673.57" cy="829.05" r="2.55" fill="#000"/>
<circle cx="1723.32" cy="846.4" r="2.55" fill="#000"/>
<circle cx="1772.79" cy="853.93" r="2.55" fill="#000"/>
<circle cx="1822.25" cy="849.01" r="2.55" fill="#000"/>
<circle cx="1872" cy="809.96" r="2.55" fill="#000"/>
<path d="M1398.05 485.8 V871 H1940.7" fill="none" stroke="#1f1f1f" stroke-width="1.4" stroke-linejoin="round"/>
<line x1="1422.85" y1="871" x2="1422.85" y2="874" stroke="#1a1a1a" stroke-width="1.4"/>
<text class="sans tick" x="1422.85" y="884" text-anchor="middle">0.5</text>
<line x1="1521.53" y1="871" x2="1521.53" y2="874" stroke="#1a1a1a" stroke-width="1.4"/>
<text class="sans tick" x="1521.53" y="884" text-anchor="middle">0.6</text>
<line x1="1620.21" y1="871" x2="1620.21" y2="874" stroke="#1a1a1a" stroke-width="1.4"/>
<text class="sans tick" x="1620.21" y="884" text-anchor="middle">0.7</text>
<line x1="1718.89" y1="871" x2="1718.89" y2="874" stroke="#1a1a1a" stroke-width="1.4"/>
<text class="sans tick" x="1718.89" y="884" text-anchor="middle">0.8</text>
<line x1="1817.57" y1="871" x2="1817.57" y2="874" stroke="#1a1a1a" stroke-width="1.4"/>
<text class="sans tick" x="1817.57" y="884" text-anchor="middle">0.9</text>
<line x1="1916.25" y1="871" x2="1916.25" y2="874" stroke="#1a1a1a" stroke-width="1.4"/>
<text class="sans tick" x="1916.25" y="884" text-anchor="middle">1.0</text>
<line x1="1394.85" y1="793.35" x2="1398.05" y2="793.35" stroke="#1a1a1a" stroke-width="1.4"/>
<text class="sans tick" x="1392.25" y="796.55" text-anchor="end">0.00</text>
<line x1="1394.85" y1="694.75" x2="1398.05" y2="694.75" stroke="#1a1a1a" stroke-width="1.4"/>
<text class="sans tick" x="1392.25" y="697.95" text-anchor="end">0.05</text>
<line x1="1394.85" y1="596.15" x2="1398.05" y2="596.15" stroke="#1a1a1a" stroke-width="1.4"/>
<text class="sans tick" x="1392.25" y="599.35" text-anchor="end">0.10</text>
<line x1="1394.85" y1="497.55" x2="1398.05" y2="497.55" stroke="#1a1a1a" stroke-width="1.4"/>
<text class="sans tick" x="1392.25" y="500.75" text-anchor="end">0.15</text>
<text class="sans axt" x="1668.58" y="897.85" text-anchor="middle">AUC levels</text>
<text class="sans axt" transform="translate(1367.35 678.4) rotate(-90)" text-anchor="middle">Bias (sampling)</text>
</g>
<g id="legend">
<rect x="553.0" y="515.3" width="122.3" height="124.9" fill="#fff" stroke="#000" stroke-width="2.6"/>
<rect x="559.7" y="539.4" width="17.8" height="17.3" fill="#eeeeee"/>
<line x1="561.2" y1="548.3" x2="575.9" y2="548.3" stroke="#000" stroke-width="1.25"/>
<text class="sans leg" x="584.5" y="553.25">Empirical</text>
<rect x="559.7" y="558.55" width="17.8" height="17.3" fill="#eeeeee"/>
<line x1="561.2" y1="567.45" x2="575.9" y2="567.45" stroke="#000" stroke-width="1.25" stroke-dasharray="1.4 3.3"/>
<text class="sans leg" x="584.5" y="572.4">Logit<tspan textLength="7.7" lengthAdjust="spacingAndGlyphs">-</tspan>Normal</text>
<rect x="559.7" y="577.7" width="17.8" height="17.3" fill="#eeeeee"/>
<line x1="561.2" y1="586.6" x2="575.9" y2="586.6" stroke="#000" stroke-width="1.25" stroke-dasharray="1.4 3.41 4.7 3.41"/>
<text class="sans leg" x="584.5" y="591.55">Probit<tspan textLength="7.7" lengthAdjust="spacingAndGlyphs">-</tspan>Normal</text>
<rect x="559.7" y="596.85" width="17.8" height="17.3" fill="#eeeeee"/>
<line x1="561.2" y1="605.75" x2="575.9" y2="605.75" stroke="#000" stroke-width="1.25" stroke-dasharray="4.7 4.7"/>
<text class="sans leg" x="584.5" y="610.7">Log<tspan textLength="7.7" lengthAdjust="spacingAndGlyphs">-</tspan>Normal</text>
<rect x="559.7" y="616" width="17.8" height="17.3" fill="#eeeeee"/>
<line x1="561.2" y1="624.9" x2="575.9" y2="624.9" stroke="#000" stroke-width="1.25" stroke-dasharray="8.22 3.53"/>
<text class="sans leg" x="584.5" y="628.35">Beta</text>
</g>
</svg>
</body></html>
